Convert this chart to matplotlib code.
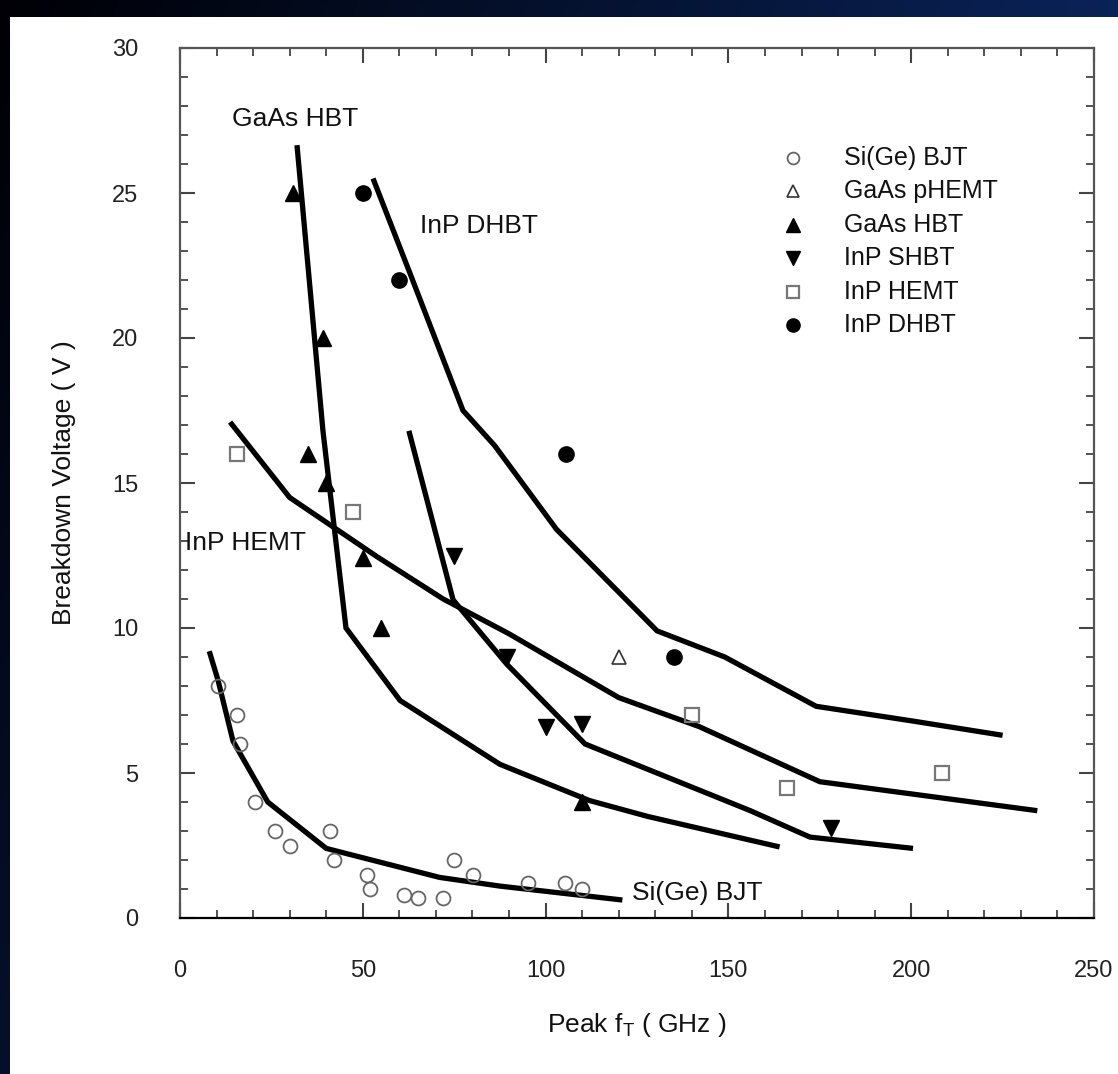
import numpy as np
import matplotlib
matplotlib.use('Agg')
import matplotlib.pyplot as plt
from matplotlib.patches import Rectangle
from matplotlib.ticker import MultipleLocator

plt.rcParams['font.family'] = ['Liberation Sans', 'DejaVu Sans']
plt.rcParams['mathtext.fontset'] = 'custom'
plt.rcParams['mathtext.rm'] = 'Liberation Sans'
plt.rcParams['mathtext.it'] = 'Liberation Sans:italic'

# ---------------- data ----------------
sige_ft = [10.4, 15.7, 16.4, 20.5, 26.0, 30.1, 41.0, 42.1, 51.1, 51.9, 61.3, 65.1, 71.9, 74.9, 80.1, 95.2, 105.3, 110.0]
sige_bv = [8.0, 7.0, 6.0, 4.0, 3.0, 2.5, 3.0, 2.0, 1.5, 1.0, 0.8, 0.7, 0.7, 2.0, 1.5, 1.2, 1.2, 1.0]

phemt_ft = [120]
phemt_bv = [9.0]

gaas_ft = [31, 39, 35, 40, 50, 55, 110]
gaas_bv = [25, 20, 16, 15, 12.4, 10, 4]

shbt_ft = [75, 89.5, 100, 110, 178]
shbt_bv = [12.5, 9.0, 6.6, 6.7, 3.1]

hemt_ft = [15.5, 47.3, 140, 166, 208.5]
hemt_bv = [16, 14, 7, 4.5, 5]

dhbt_ft = [50, 60, 105.5, 135]
dhbt_bv = [25, 22, 16, 9]

# trend lines
sige_line_ft = [8, 10.4, 14.5, 24, 40, 71, 87.5, 121]
sige_line_bv = [9.2, 8.2, 6.1, 4.0, 2.4, 1.4, 1.1, 0.62]

gaas_line_ft = [32, 39.1, 45.4, 60.2, 87.5, 112, 128, 164]
gaas_line_bv = [26.65, 16.8, 10.0, 7.5, 5.3, 4.05, 3.5, 2.45]

hemt_line_ft = [13.7, 30, 54, 72, 90, 120, 142, 175, 234.5]
hemt_line_bv = [17.1, 14.5, 12.45, 11.0, 9.8, 7.6, 6.6, 4.7, 3.7]

shbt_line_ft = [62.6, 74.7, 89.4, 110.8, 156, 172.3, 200.5]
shbt_line_bv = [16.8, 10.97, 8.75, 6.0, 3.7, 2.79, 2.4]

dhbt_line_ft = [52.8, 63, 77.4, 86, 103, 130.5, 149, 174, 200, 225]
dhbt_line_bv = [25.5, 22.2, 17.5, 16.3, 13.4, 9.9, 9.0, 7.3, 6.8, 6.3]

x_ticks = [0, 50, 100, 150, 200, 250]
y_ticks = [0, 5, 10, 15, 20, 25, 30]

legend_labels = ['Si(Ge) BJT', 'GaAs pHEMT', 'GaAs HBT', 'InP SHBT', 'InP HEMT', 'InP DHBT']

# ---------------- figure ----------------
W, H = 1118, 1074
fig = plt.figure(figsize=(W / 100, H / 100), dpi=100)

# dark blue border (gradient) behind a white page
bg = fig.add_axes([0, 0, 1, 1], zorder=-10)
gx = np.linspace(0, 1, 256)
gy = np.linspace(0, 1, 256)
GX, GY = np.meshgrid(gx, gy)
t = np.clip(0.75 * GX + 0.35 * GY, 0, 1)
c0 = np.array([0.0, 0.0, 0.02])
c1 = np.array([0.05, 0.18, 0.45])
img = c0[None, None, :] * (1 - t[..., None]) + c1[None, None, :] * t[..., None]
bg.imshow(img, extent=[0, 1, 0, 1], aspect='auto', origin='upper')
bg.add_patch(Rectangle((10 / W, 0), 1, 1 - 17 / H, facecolor='white', edgecolor='none'))
bg.set_xlim(0, 1)
bg.set_ylim(0, 1)
bg.axis('off')

ax = fig.add_axes([180 / W, 1 - 918 / H, (1094 - 180) / W, (918 - 48) / H])
ax.set_facecolor('none')

lw = 3.8
for fx, fy in [(sige_line_ft, sige_line_bv), (gaas_line_ft, gaas_line_bv),
               (hemt_line_ft, hemt_line_bv), (shbt_line_ft, shbt_line_bv),
               (dhbt_line_ft, dhbt_line_bv)]:
    ax.plot(fx, fy, color='black', lw=lw, solid_joinstyle='miter', solid_capstyle='butt', zorder=3)

styles = [
    dict(marker='o', ms=10, mfc='none', mec='#666666', mew=1.3),
    dict(marker='^', ms=10, mfc='none', mec='#333333', mew=1.2),
    dict(marker='^', ms=11, mfc='black', mec='black', mew=1.0),
    dict(marker='v', ms=11, mfc='black', mec='black', mew=1.0),
    dict(marker='s', ms=10, mfc='none', mec='#777777', mew=1.6),
    dict(marker='o', ms=11, mfc='black', mec='black', mew=1.0),
]
series = [(sige_ft, sige_bv), (phemt_ft, phemt_bv), (gaas_ft, gaas_bv),
          (shbt_ft, shbt_bv), (hemt_ft, hemt_bv), (dhbt_ft, dhbt_bv)]
for (sx, sy), st in zip(series, styles):
    ax.plot(sx, sy, ls='none', zorder=4, **st)

# legend (manual)
for i, (lab, st) in enumerate(zip(legend_labels, styles)):
    ypx = 158 + 33.4 * i
    yf = (918 - ypx) / 870
    st_leg = dict(st)
    st_leg['ms'] = st['ms'] - 1.5
    ax.plot([(793 - 180) / 914], [yf], transform=ax.transAxes, ls='none', **st_leg)
    ax.text((844 - 180) / 914, yf, lab, transform=ax.transAxes, fontsize=18,
            va='center', ha='left', color='#111111')

# annotations
fs = 19
ax.text(14.2, 27.55, 'GaAs HBT', fontsize=fs, va='center', ha='left', color='#111111')
ax.text(65.6, 23.86, 'InP DHBT', fontsize=fs, va='center', ha='left', color='#111111')
ax.text(1.5, 12.93, 'InP HEMT', fontsize=fs, va='center', ha='left', color='#111111')
ax.text(123.6, 0.86, 'Si(Ge) BJT', fontsize=fs, va='center', ha='left', color='#111111')

ax.set_xlim(0, 250)
ax.set_ylim(0, 30)
ax.set_xticks(x_ticks)
ax.set_yticks(y_ticks)
ax.xaxis.set_minor_locator(MultipleLocator(10))
ax.yaxis.set_minor_locator(MultipleLocator(1))
ax.tick_params(which='both', direction='in', top=True, right=True, color='#444444')
ax.tick_params(which='major', length=11, width=1.5, labelsize=17, pad=30, labelcolor='#222222')
ax.tick_params(which='minor', length=6, width=1.3)
for s in ax.spines.values():
    s.set_color('#555555')
    s.set_linewidth(1.6)
ax.spines['bottom'].set_color('black')

ax.set_xlabel('Peak f$_\\mathrm{T}$ ( GHz )', fontsize=19, labelpad=21, color='#111111')
ax.set_ylabel('Breakdown Voltage ( V )', fontsize=19, labelpad=26, color='#111111')

fig.savefig('out.png', dpi=100)
